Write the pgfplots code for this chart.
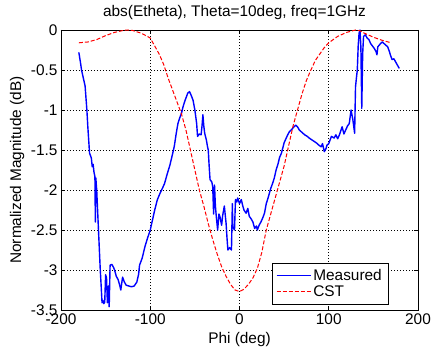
\documentclass[border=0pt]{standalone}
\usepackage{fontspec}
\setmainfont{Liberation Sans}
\usepackage{pgfplots}
\pgfplotsset{compat=1.18}
\newcommand{\fs}{\fontsize{15.4pt}{18pt}\selectfont}
\begin{document}
\begin{tikzpicture}
\begin{axis}[
  scale only axis,
  width=357pt, height=280pt,
  xmin=-200, xmax=200, ymin=-3.5, ymax=0,
  xtick={-200,-100,0,100,200},
  ytick={-3.5,-3,-2.5,-2,-1.5,-1,-0.5,0},
  /pgf/number format/assume math mode=true,
  ticklabel style={font=\fs},
  yticklabel style={/pgf/number format/fixed},
  tick align=inside, major tick length=4pt,
  xtick pos=both, ytick pos=both,
  xticklabel pos=lower, yticklabel pos=left,
  tick style={black, line width=0.5pt},
  grid=major,
  major grid style={black, line width=0.5pt, dash pattern=on 1pt off 2pt},
  axis line style={black, line width=0.5pt},
  title={abs(Etheta), Theta=10deg, freq=1GHz},
  title style={font=\fs, at={(axis description cs:0.486,1.025)}, anchor=base, inner sep=0pt},
  xlabel={Phi (deg)},
  xlabel style={font=\fs, at={(axis description cs:0.5,-0.118)}, anchor=base, inner sep=0pt},
  ylabel={Normalized Magnitude (dB)},
  ylabel style={font=\fs, at={(axis description cs:-0.112,0.5)}, anchor=base, inner sep=0pt, rotate=0},
  legend style={font=\fs,
    at={(axis description cs:0.916,0.021)}, anchor=south east,
    inner xsep=4pt, inner ysep=4pt, row sep=0pt, cells={anchor=west}},
  legend image code/.code={\draw[#1] (0pt,0pt) -- (34pt,0pt);},
]
\addlegendimage{color=blue, line width=1.6pt}
\addlegendentry{Measured}
\addlegendimage{color=red, line width=1.3pt, dash pattern=on 4pt off 2pt}
\addlegendentry{CST}
\addplot[forget plot, color=blue, line width=1.4pt, line join=round] coordinates {
(-180,-0.28) (-178,-0.42) (-177,-0.5) (-175,-0.6) (-173,-0.7) (-172,-0.85) (-171,-1.0)
(-170,-1.2) (-169,-1.37) (-168,-1.54) (-166,-1.6) (-165,-1.71) (-164,-1.68) (-163,-1.78)
(-162,-1.83) (-161.5,-2.4) (-161,-1.85) (-160,-2.0) (-159,-2.25) (-158,-2.5) (-157,-2.75)
(-156,-3.0) (-155,-3.2) (-154,-3.41) (-153,-3.38) (-152,-3.42) (-151,-3.4) (-150,-3.06)
(-149,-3.1) (-148,-3.41) (-147,-3.2) (-146,-3.46) (-145,-2.94) (-143,-2.93) (-141,-2.97)
(-140,-3.0) (-138,-3.08) (-136,-3.12) (-134,-3.2) (-133,-3.25) (-131,-3.09) (-129,-3.15)
(-127,-3.19) (-124,-3.2) (-121,-3.21) (-118,-3.2) (-115,-3.15) (-113,-3.05) (-112,-2.94)
(-109,-2.85) (-106,-2.71) (-103,-2.6) (-100,-2.5) (-97,-2.35) (-95,-2.25) (-92,-2.12)
(-89,-2.04) (-86,-1.97) (-84,-1.92) (-81,-1.8) (-78,-1.69) (-75,-1.55) (-73,-1.45)
(-71,-1.3) (-69,-1.17) (-67,-1.1) (-65,-1.04) (-63,-0.95) (-61,-0.88) (-59,-0.82)
(-58,-0.79) (-56,-0.77) (-54,-0.82) (-52,-0.88) (-50,-1.0) (-48,-1.17) (-47,-1.33)
(-45,-1.3) (-43,-1.31) (-42,-1.2) (-41,-1.06) (-40,-1.2) (-39,-1.29) (-37,-1.38)
(-36,-1.45) (-35,-1.5) (-34,-1.7) (-33,-1.87) (-31,-1.9) (-30,-1.96) (-29,-2.3)
(-28,-1.94) (-27,-2.2) (-26,-2.33) (-24.5,-2.5) (-23,-2.3) (-22,-2.33) (-20,-2.44)
(-19,-2.33) (-17,-2.2) (-15,-2.42) (-14,-2.6) (-13,-2.75) (-11,-2.72) (-9,-2.75)
(-8,-2.17) (-7.5,-2.46) (-5.6,-2.5) (-4.5,-2.12) (-3,-2.15) (-2,-2.1) (0,-2.17)
(2,-2.12) (3.7,-2.2) (5,-2.25) (7.4,-2.29) (9.3,-2.23) (11,-2.33) (13,-2.36) (15,-2.4)
(17,-2.48) (19,-2.45) (20,-2.5) (22,-2.44) (24,-2.4) (26,-2.35) (28,-2.29) (30,-2.17)
(32,-2.1) (33.5,-2.04) (35,-1.98) (37,-1.92) (39,-1.85) (41,-1.75) (43,-1.68) (45,-1.59)
(47,-1.54) (50,-1.41) (52,-1.36) (54,-1.31) (56,-1.27) (58,-1.25) (61,-1.21) (63,-1.19)
(65,-1.21) (67,-1.25) (70,-1.28) (73,-1.31) (76,-1.33) (78,-1.35) (82,-1.38) (86,-1.41)
(89,-1.44) (91.5,-1.46) (93,-1.42) (95,-1.52) (97,-1.48) (98,-1.44) (100,-1.42)
(103,-1.33) (106,-1.35) (108,-1.31) (110,-1.36) (112,-1.31) (115,-1.21) (117,-1.3)
(119,-1.25) (121,-1.2) (123,-1.17) (125,-1.0) (127,-1.12) (129,-1.29) (130,-0.71)
(131,-0.6) (132,-0.5) (133,-0.2) (134,-0.04) (135,0) (136,-0.21) (137,-0.98) (138,-0.3)
(139,-0.08) (141,-0.06) (143,-0.1) (145,-0.12) (147,-0.17) (149,-0.2) (151,-0.23)
(153,-0.27) (154,-0.31) (155,-0.21) (158,-0.17) (160,-0.15) (162,-0.17) (164,-0.19)
(166,-0.21) (168,-0.27) (169,-0.31) (171,-0.37) (173,-0.36) (175,-0.4) (177,-0.44)
(179,-0.48)
};
\addplot[forget plot, color=red, line width=1pt, dash pattern=on 4pt off 2pt] coordinates {
(-180,-0.16) (-170,-0.15) (-160,-0.12) (-150,-0.07) (-140,-0.03) (-130,-0.005)
(-125,0) (-120,-0.005) (-110,-0.04) (-100,-0.1) (-95,-0.2) (-90,-0.3) (-85,-0.43)
(-80,-0.6) (-75,-0.75) (-70,-0.9) (-65,-1.05) (-60,-1.25) (-55,-1.5) (-50,-1.75)
(-45,-2.0) (-40,-2.2) (-35,-2.42) (-30,-2.62) (-25,-2.8) (-20,-2.96) (-15,-3.08)
(-10,-3.18) (-5,-3.25) (0,-3.27) (5,-3.24) (10,-3.18) (15,-3.1) (20,-2.98) (25,-2.78)
(30,-2.5) (35,-2.3) (40,-2.1) (45,-1.9) (50,-1.7) (55,-1.45) (60,-1.2) (65,-1.0)
(70,-0.8) (75,-0.63) (80,-0.5) (85,-0.38) (90,-0.3) (95,-0.22) (100,-0.16) (110,-0.08)
(120,-0.03) (130,0) (135,-0.01) (140,-0.04) (150,-0.09) (160,-0.13) (170,-0.16)
};
\end{axis}
\pgfresetboundingbox
\path[use as bounding box] (-61pt,-42pt) rectangle (370pt,310pt);
\end{tikzpicture}
\end{document}
